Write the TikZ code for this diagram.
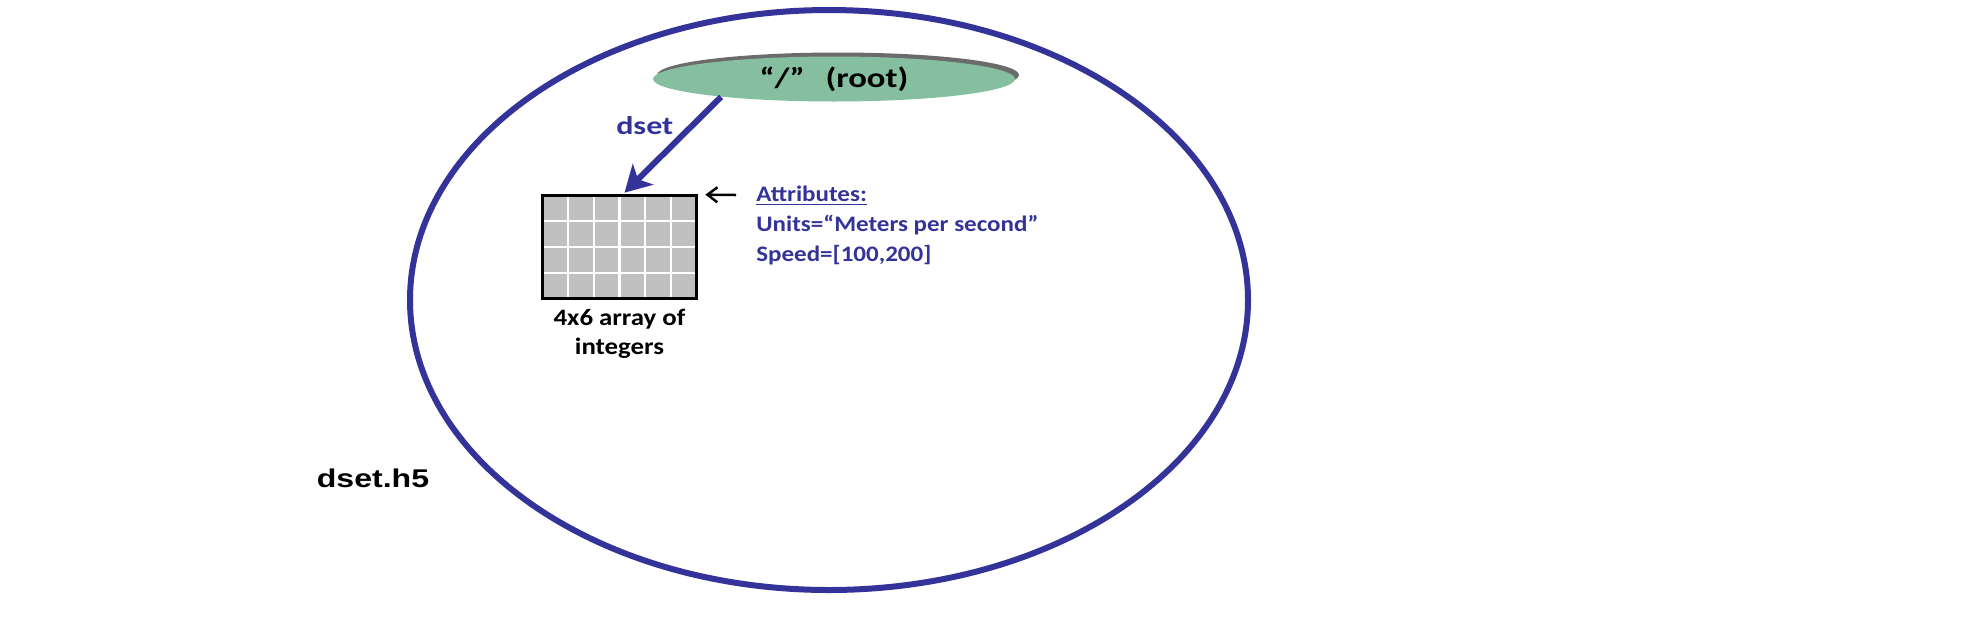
\documentclass[tikz,border=0pt]{standalone}
\usepackage{fontspec}
\setmainfont{Carlito}
\newfontfamily\arialfont{Liberation Sans}
\usetikzlibrary{positioning,calc,arrows.meta,shapes.geometric,shadows}
\definecolor{fileblue}{RGB}{51,51,153}
\definecolor{rootgreen}{RGB}{134,191,160}
\definecolor{cellgray}{RGB}{192,192,192}
\newcommand{\wide}[2][1.25]{\scalebox{#1}[1]{#2}}
\begin{document}
\begin{tikzpicture}[x=0.02cm,y=-0.02cm,
  rootnode/.style={ellipse,fill=rootgreen,minimum width=7.24cm,minimum height=0.9cm,inner sep=0pt,
    general shadow={fill=black!58,shadow xshift=0.08cm,shadow yshift=0.08cm},
    font=\bfseries\fontsize{15.8}{19}\selectfont},
  arraybox/.style={fill=cellgray,minimum width=3.06cm,minimum height=2.04cm,inner sep=0pt},
  linkarrow/.style={draw=fileblue,line width=0.12cm,-{Stealth[length=0.52cm,width=0.58cm,inset=0.14cm]}},
  bluetext/.style={text=fileblue,font=\bfseries\fontsize{12.6}{17.1}\selectfont}]
\useasboundingbox (0,0) rectangle (1974,620);
\draw[fileblue,line width=0.12cm] (829,300) ellipse [x radius=419,y radius=290];
\node[rootnode] (root) at (834,79) {\wide{“/”\hspace{0.6em}(root)}};
\node[arraybox] (arr) at (619.5,247) {};
\foreach \c in {1,...,5}
  \draw[white,line width=0.045cm] ($(arr.north west)!\c/6!(arr.north east)$) -- ($(arr.south west)!\c/6!(arr.south east)$);
\foreach \r in {1,2,3}
  \draw[white,line width=0.045cm] ($(arr.north west)!\r/4!(arr.south west)$) -- ($(arr.north east)!\r/4!(arr.south east)$);
\draw[line width=0.055cm] (arr.north west) rectangle (arr.south east);
\node[below=0.1cm of arr,align=center,font=\bfseries\fontsize{13.4}{16.5}\selectfont] (arrlabel)
  {\wide[1.14]{4x6 array of}\\\wide[1.14]{integers}};
\node[bluetext,anchor=north west,align=left,inner sep=0pt] (attrs) at (756,186)
  {\wide[1.13]{\underline{Attributes:}}\\\wide[1.13]{Units=“Meters per second”}\\\wide[1.13]{Speed=[100,200]}};
\draw[linkarrow] (root.189) -- ([shift={(5,-3)}]arr.north)
  node[pos=0.3,left=0.2cm,text=fileblue,font=\bfseries\fontsize{14.6}{18}\selectfont] (dsetlabel) {\wide{dset}};
\draw[line width=0.05cm,-{Straight Barb[length=0.2cm,width=0.3cm]}] ([shift={(-20,9)}]attrs.north west) -- ([shift={(9,-1)}]arr.north east);
\node[font=\arialfont\bfseries\fontsize{14.6}{18}\selectfont] (fname) at (373,478) {\wide{dset.h5}};
\end{tikzpicture}
\end{document}
